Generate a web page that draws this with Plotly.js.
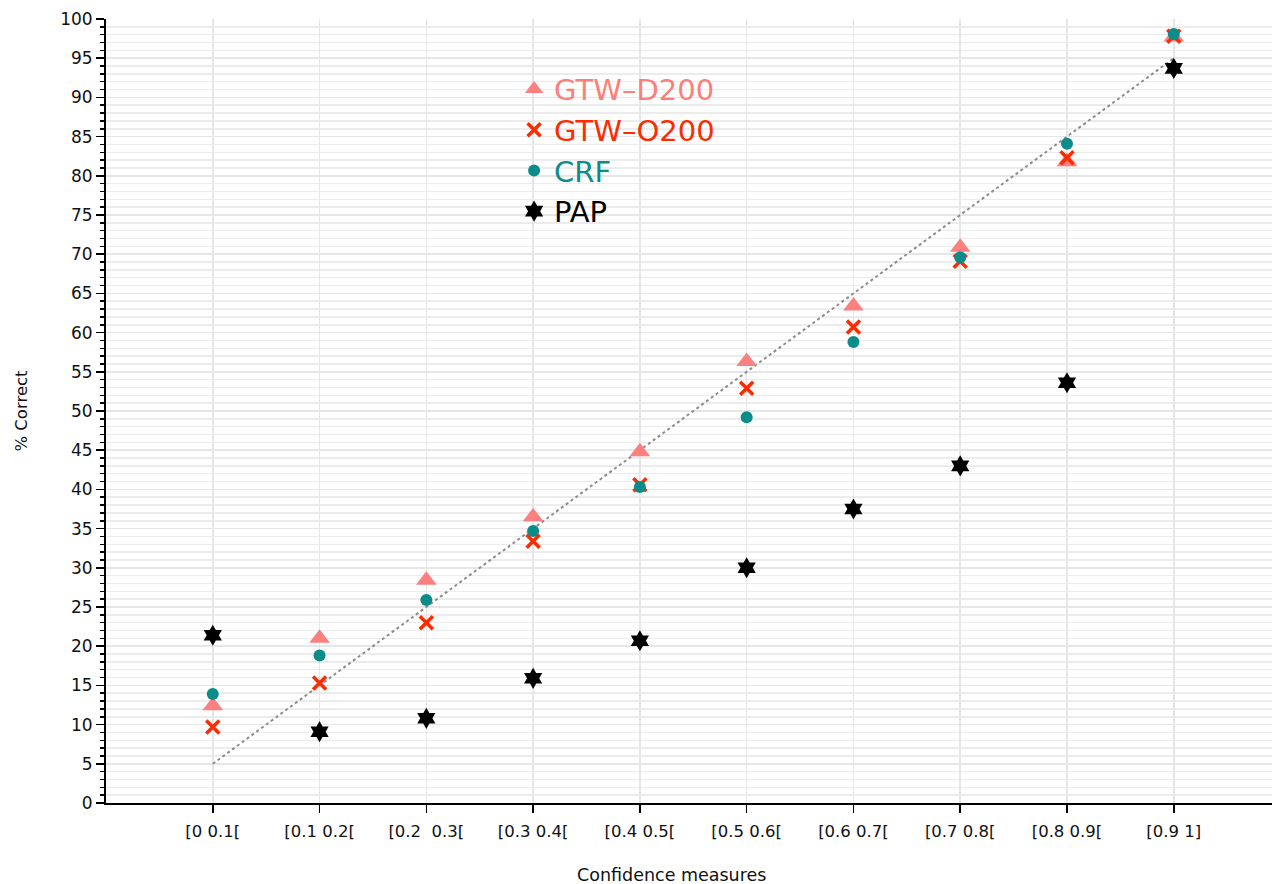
<!DOCTYPE html>
<html><head><meta charset="utf-8">
<script src="https://cdn.plot.ly/plotly-3.0.1.min.js"></script>
<style>html,body{margin:0;padding:0;background:#fff}#plot{width:1272px;height:884px}</style>
</head><body><div id="plot"></div>
<script>
const categories = ["[0 0.1[", "[0.1 0.2[", "[0.2\u00a0 0.3[", "[0.3 0.4[", "[0.4 0.5[", "[0.5 0.6[", "[0.6 0.7[", "[0.7 0.8[", "[0.8 0.9[", "[0.9 1]"];
const gtwD200 = [12.4, 21.0, 28.4, 36.5, 44.8, 56.3, 63.4, 70.9, 81.8, 97.7];
const gtwO200 = [9.7, 15.3, 23.0, 33.4, 40.6, 52.9, 60.7, 69.1, 82.3, 97.8];
const crf = [13.9, 18.8, 25.9, 34.7, 40.3, 49.2, 58.8, 69.6, 84.1, 98.1];
const pap = [21.4, 9.1, 10.8, 15.9, 20.7, 30.0, 37.5, 43.0, 53.6, 93.7];
const refIdx = [0, 9];
const refY = [5, 95];

const idx = categories.map((c, i) => i);
const traces = [
  {x: refIdx, y: refY, mode: 'lines', line: {color: '#8c8c8c', width: 2, dash: 'dot'}, showlegend: false, hoverinfo: 'skip'},
  {x: idx, y: gtwD200, mode: 'markers', name: '<span style="color:#fd7f7a">GTW\u2013D200</span>',
   marker: {symbol: 'triangle-up', size: 18, color: '#fd8080'}},
  {x: idx, y: gtwO200, mode: 'markers', name: '<span style="color:#fe2b00">GTW\u2013O200</span>',
   marker: {symbol: 'x-thin', size: 13, line: {color: '#fe2b00', width: 3.5}, color: '#fe2b00'}},
  {x: idx, y: crf, mode: 'markers', name: '<span style="color:#0a8c8a">CRF</span>',
   marker: {symbol: 'circle', size: 12, color: '#0a8c8a'}},
  {x: idx, y: pap, mode: 'markers', name: '<span style="color:#000000">PAP</span>',
   marker: {symbol: 'hexagram', size: 16, color: '#000000'}}
];
const layout = {
  width: 1272, height: 884,
  margin: {l: 106, r: 0, t: 19, b: 81},
  paper_bgcolor: '#fff', plot_bgcolor: '#fff',
  font: {family: 'DejaVu Sans, sans-serif', size: 15, color: '#111'},
  showlegend: true,
  legend: {x: 0.35, y: 0.943, xanchor: 'left', yanchor: 'top', bgcolor: 'rgba(0,0,0,0)',
           font: {size: 29, family: 'DejaVu Sans, sans-serif'}, tracegroupgap: 0, itemwidth: 30},
  xaxis: {
    range: [-1, 9.92], tickmode: 'array', tickvals: idx, ticktext: categories,
    showgrid: true, gridcolor: '#e6e6e6', gridwidth: 1.5, zeroline: false,
    showline: true, linecolor: '#000', linewidth: 2,
    ticks: 'outside', ticklen: 8, tickwidth: 1.5, tickcolor: '#000',
    tickfont: {size: 16.5}, ticklabelstandoff: 4
  },
  yaxis: {
    range: [0, 100], dtick: 5, tick0: 0,
    showgrid: true, gridcolor: '#e6e6e6', gridwidth: 1.5, zeroline: false,
    showline: true, linecolor: '#000', linewidth: 2,
    ticks: 'outside', ticklen: 8, tickwidth: 1.5, tickcolor: '#000',
    minor: {dtick: 1, ticks: 'outside', ticklen: 4, tickwidth: 1.5, tickcolor: '#000', showgrid: true, gridcolor: '#ececec', gridwidth: 1.5},
    tickfont: {size: 17},
    title: {text: '% Correct', font: {size: 16.5}, standoff: 28}
  },
  annotations: [{
    text: 'Confidence measures', xref: 'paper', yref: 'paper',
    x: 0.4846, y: -0.0918, xanchor: 'center', yanchor: 'middle',
    showarrow: false, font: {size: 17.5}
  }]
};
Plotly.newPlot('plot', traces, layout, {displayModeBar: false, staticPlot: true});
</script></body></html>
